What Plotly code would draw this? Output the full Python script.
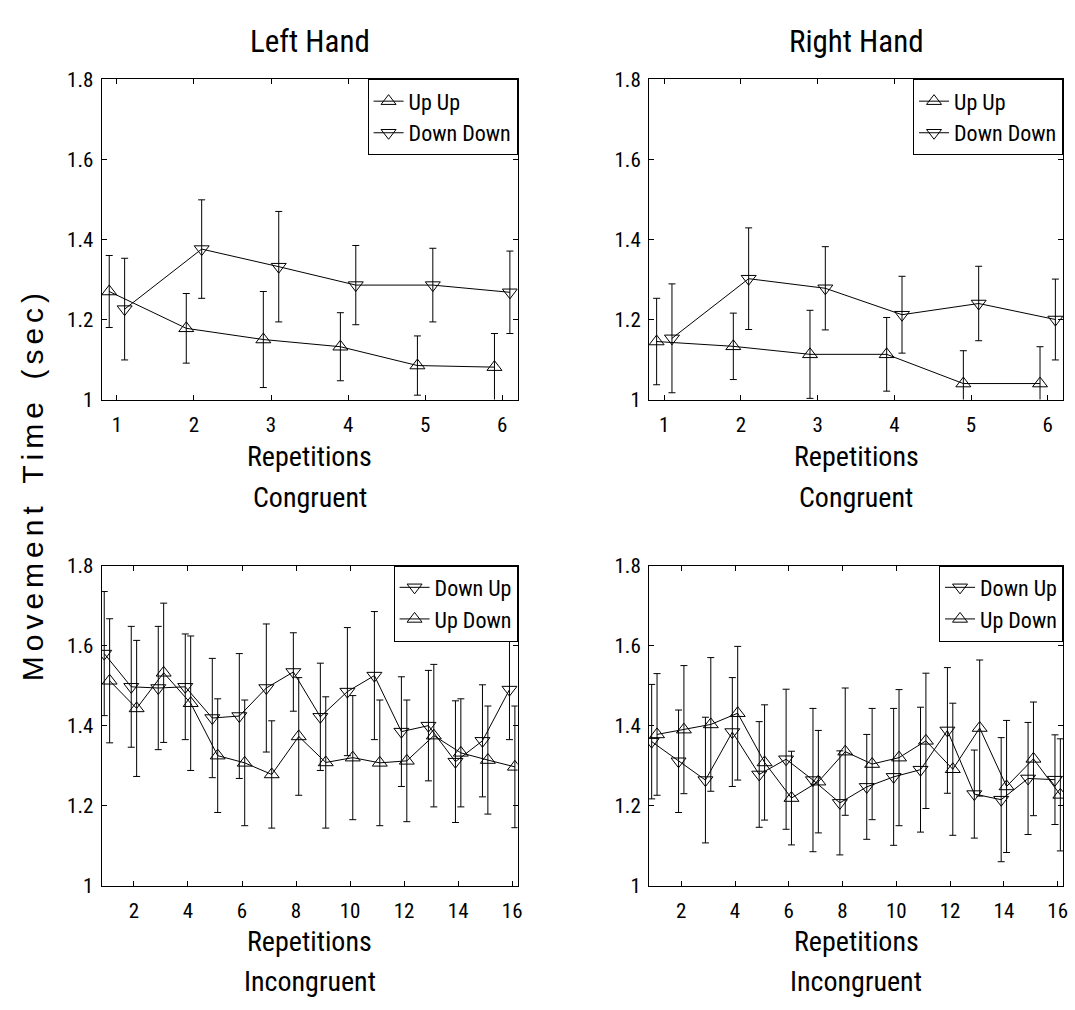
import plotly.graph_objects as go

# ---- data -------------------------------------------------------------
reps_congruent = [1, 2, 3, 4, 5, 6]
reps_incongruent = list(range(1, 17))

# Left hand, congruent
left_up_up = [1.270, 1.178, 1.150, 1.132, 1.085, 1.081]
left_up_up_err = [0.090, 0.087, 0.120, 0.085, 0.074, 0.084]
left_down_down = [1.226, 1.376, 1.332, 1.286, 1.286, 1.268]
left_down_down_err = [0.127, 0.123, 0.138, 0.099, 0.092, 0.103]

# Right hand, congruent
right_up_up = [1.145, 1.133, 1.113, 1.113, 1.040, 1.040]
right_up_up_err = [0.108, 0.083, 0.110, 0.092, 0.082, 0.092]
right_down_down = [1.153, 1.302, 1.278, 1.212, 1.240, 1.200]
right_down_down_err = [0.136, 0.127, 0.104, 0.096, 0.093, 0.101]

# Left hand, incongruent
left_down_up = [1.580, 1.497, 1.494, 1.497, 1.419, 1.424, 1.494, 1.534,
                1.422, 1.485, 1.525, 1.385, 1.400, 1.310, 1.362, 1.490]
left_down_up_err = [0.155, 0.151, 0.154, 0.132, 0.149, 0.156, 0.160, 0.098,
                    0.134, 0.160, 0.160, 0.137, 0.138, 0.152, 0.140, 0.125]
left_up_down = [1.512, 1.443, 1.532, 1.456, 1.325, 1.307, 1.278, 1.373,
                1.308, 1.320, 1.307, 1.312, 1.375, 1.332, 1.314, 1.297]
left_up_down_err = [0.155, 0.170, 0.174, 0.168, 0.142, 0.157, 0.134, 0.147,
                    0.164, 0.155, 0.157, 0.152, 0.178, 0.135, 0.135, 0.152]

# Right hand, incongruent
right_down_up = [1.360, 1.311, 1.264, 1.384, 1.278, 1.316, 1.264, 1.207,
                 1.247, 1.272, 1.290, 1.388, 1.229, 1.215, 1.268, 1.265]
right_down_up_err = [0.143, 0.128, 0.157, 0.136, 0.132, 0.175, 0.179, 0.130,
                     0.131, 0.171, 0.156, 0.157, 0.110, 0.155, 0.140, 0.112]
right_up_down = [1.378, 1.390, 1.403, 1.431, 1.308, 1.219, 1.260, 1.335,
                 1.304, 1.320, 1.362, 1.291, 1.394, 1.248, 1.317, 1.227]
right_up_down_err = [0.152, 0.160, 0.167, 0.167, 0.144, 0.117, 0.128, 0.159,
                     0.139, 0.170, 0.169, 0.165, 0.170, 0.165, 0.142, 0.140]

y_ticks = [1.0, 1.2, 1.4, 1.6, 1.8]
y_tick_labels = ["1", "1.2", "1.4", "1.6", "1.8"]
x_ticks_congruent = [1, 2, 3, 4, 5, 6]
x_ticks_incongruent = [2, 4, 6, 8, 10, 12, 14, 16]

# ---- styling ----------------------------------------------------------
FONT = "Roboto Condensed, Liberation Sans Narrow, Liberation Sans, Arial, sans-serif"
YLABEL_FONT = "Liberation Sans, Arial, sans-serif"
W, H = 1075, 1010
SHIFT = 0.1  # horizontal offset between the two series at each repetition

# panel boxes in pixels (left, right, top, bottom)
panels = {
    "TL": (102, 520, 69, 397),
    "TR": (652, 1068, 69, 397),
    "BL": (102, 520, 567, 895),
    "BR": (652, 1068, 567, 895),
}


def xdom(p):
    l, r, t, b = panels[p]
    return [l / W, r / W]


def ydom(p):
    l, r, t, b = panels[p]
    return [1 - b / H, 1 - t / H]


fig = go.Figure()


def add_series(reps, vals, errs, symbol, name, axis_id, legend_id, shift):
    # data trace with error bars
    fig.add_trace(go.Scatter(
        x=[r + shift for r in reps],
        y=vals,
        mode="lines+markers",
        name=name,
        showlegend=False,
        line=dict(color="black", width=1),
        marker=dict(symbol=symbol, size=13, color="black",
                    line=dict(color="black", width=1)),
        error_y=dict(type="data", array=errs, symmetric=True,
                     color="black", thickness=1, width=3.5),
        xaxis="x" + axis_id, yaxis="y" + axis_id,
    ))
    # legend key (line with marker only)
    fig.add_trace(go.Scatter(
        x=[None], y=[None],
        mode="lines+markers",
        name=name,
        line=dict(color="black", width=1),
        marker=dict(symbol=symbol, size=13, color="black",
                    line=dict(color="black", width=1)),
        xaxis="x" + axis_id, yaxis="y" + axis_id,
        legend=legend_id,
    ))


# Congruent panels: Up Up listed first, Down Down second
add_series(reps_congruent, left_up_up, left_up_up_err, "triangle-up-open",
           "Up Up", "", "legend", -SHIFT)
add_series(reps_congruent, left_down_down, left_down_down_err, "triangle-down-open",
           "Down Down", "", "legend", SHIFT)
add_series(reps_congruent, right_up_up, right_up_up_err, "triangle-up-open",
           "Up Up", "2", "legend2", -SHIFT)
add_series(reps_congruent, right_down_down, right_down_down_err, "triangle-down-open",
           "Down Down", "2", "legend2", SHIFT)
# Incongruent panels: Down Up listed first, Up Down second
add_series(reps_incongruent, left_down_up, left_down_up_err, "triangle-down-open",
           "Down Up", "3", "legend3", -SHIFT)
add_series(reps_incongruent, left_up_down, left_up_down_err, "triangle-up-open",
           "Up Down", "3", "legend3", SHIFT)
add_series(reps_incongruent, right_down_up, right_down_up_err, "triangle-down-open",
           "Down Up", "4", "legend4", -SHIFT)
add_series(reps_incongruent, right_up_down, right_up_down_err, "triangle-up-open",
           "Up Down", "4", "legend4", SHIFT)

axis_common = dict(
    showline=True, linecolor="black", linewidth=1, mirror="ticks",
    ticks="inside", ticklen=5, tickwidth=1, tickcolor="black",
    showgrid=False, zeroline=False,
    tickfont=dict(family=FONT, size=21, color="black"),
)

layout = dict(
    width=W, height=H,
    margin=dict(l=0, r=0, t=0, b=0),
    paper_bgcolor="white", plot_bgcolor="white",
    font=dict(family=FONT, color="black"),
)

for key, pid, xr, xt in [("", "TL", [0.8, 6.2], x_ticks_congruent),
                         ("2", "TR", [0.8, 6.2], x_ticks_congruent),
                         ("3", "BL", [0.8, 16.2], x_ticks_incongruent),
                         ("4", "BR", [0.8, 16.2], x_ticks_incongruent)]:
    layout["xaxis" + key] = dict(axis_common, domain=xdom(pid), range=xr,
                                 tickvals=xt, ticklabelstandoff=6,
                                 anchor="y" + key)
    layout["yaxis" + key] = dict(axis_common, domain=ydom(pid), range=[1.0, 1.8],
                                 tickvals=y_ticks, ticktext=y_tick_labels,
                                 ticklabelstandoff=3,
                                 anchor="x" + key)
    legend_name = "legend" + key
    layout[legend_name] = dict(
        x=xdom(pid)[1], xanchor="right", y=ydom(pid)[1], yanchor="top",
        bgcolor="white", bordercolor="black", borderwidth=1,
        font=dict(family=FONT, size=22, color="black"),
    )

fig.update_layout(**layout)

# ---- text -------------------------------------------------------------
def ann(text, xpix, ypix, size, angle=0, family=FONT):
    fig.add_annotation(text=text, x=xpix / W, y=1 - ypix / H,
                       xref="paper", yref="paper", showarrow=False,
                       xanchor="center", yanchor="middle", textangle=angle,
                       font=dict(family=family, size=size, color="black"))


ann("Left Hand", 311, 30, 31)
ann("Right Hand", 860, 30, 31)
ann("Repetitions", 311, 455, 28)
ann("Congruent", 311, 497, 28)
ann("Repetitions", 860, 455, 28)
ann("Congruent", 860, 497, 28)
ann("Repetitions", 311, 952, 28)
ann("Incongruent", 311, 993, 28)
ann("Repetitions", 860, 952, 28)
ann("Incongruent", 860, 993, 28)

ylabel = ("M\u2006o\u2006v\u2006e\u2006m\u2006e\u2006n\u2006t\u2005\u2005\u2005"
          "T\u2006i\u2006m\u2006e\u2005\u2005\u2005(\u2006s\u2006e\u2006c\u2006)")
ann(ylabel, 33, 487, 30, angle=-90, family=YLABEL_FONT)

fig.write_html("out.html")
